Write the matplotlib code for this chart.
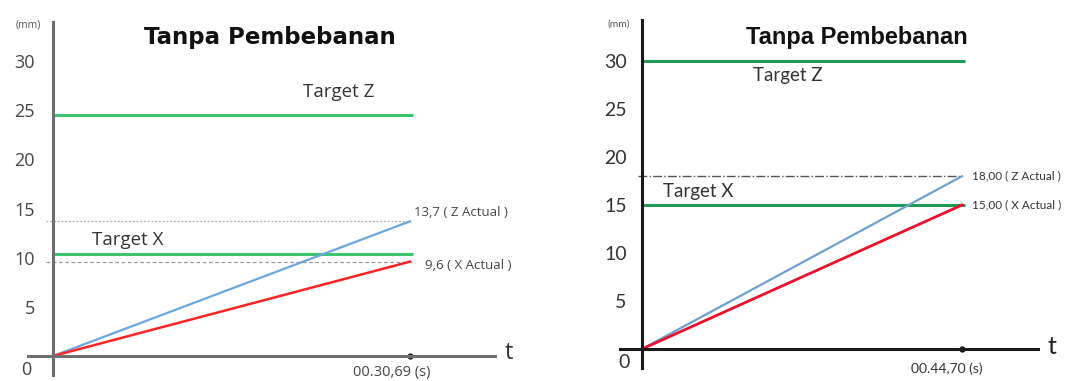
import matplotlib.pyplot as plt

# data (mm vs time in s)
t_end_left = 30.69
z_actual_left = 13.7
x_actual_left = 9.6
target_z_left = 24.5
target_x_left = 10.4

t_end_right = 44.70
z_actual_right = 18.0
x_actual_right = 15.0
target_z_right = 30.0
target_x_right = 15.0

yticks = [5, 10, 15, 20, 25, 30]

W, H = 1084, 381
fig = plt.figure(figsize=(W / 100, H / 100), dpi=100)


def make_axes(px_left, px_right, px_top, px_bottom):
    return fig.add_axes([px_left / W, (H - px_bottom) / H,
                         (px_right - px_left) / W, (px_bottom - px_top) / H])


# ---------------- left panel ----------------
sx, sy = 357 / t_end_left, 9.83  # px per unit
ax = make_axes(28, 495, 22, 375)
ax.set_xlim(-(53 - 28) / sx, (495 - 53) / sx)
ax.set_ylim(-(375 - 356) / sy, (356 - 22) / sy)
for s in ['top', 'right']:
    ax.spines[s].set_visible(False)
ax.spines['left'].set_position(('data', 0))
ax.spines['bottom'].set_position(('data', 0))
for s in ['left', 'bottom']:
    ax.spines[s].set_color('#6e6e6e')
    ax.spines[s].set_linewidth(2.2)
ax.set_yticks(yticks)
ax.set_yticklabels([str(v) for v in yticks], fontsize=13, color='#444444', family='Open Sans')
ax.tick_params(axis='y', length=0, pad=13)
ax.set_xticks([])

ax.hlines(target_z_left, 0, t_end_left + 0.3, color='#3ec46d', lw=2.2)
ax.hlines(target_x_left, 0, t_end_left + 0.3, color='#3ec46d', lw=2.2)
ax.hlines(z_actual_left, -0.6, t_end_left, color='#aaaaaa', lw=0.9, ls=(0, (1.5, 1.5)))
ax.hlines(x_actual_left, -0.6, t_end_left + 0.2, color='#999999', lw=0.9, ls=(0, (3, 2)))
ax.plot([0, t_end_left], [0, z_actual_left], color='#6aa6e0', lw=1.6)
ax.plot([0, t_end_left], [0, x_actual_left], color='#ff2424', lw=1.8)
ax.plot([t_end_left], [0], 'o', color='#222222', ms=3.5, clip_on=False)

ax.text(t_end_left * 0.80, target_z_left + 2.4, 'Target Z', fontsize=13.5,
        color='#333333', family='Open Sans', va='center', ha='center')
ax.text(t_end_left * 0.21, target_x_left + 1.4, 'Target X', fontsize=13.5,
        color='#333333', family='Open Sans', va='center', ha='center')
ax.annotate('13,7 ( Z Actual )', (t_end_left, z_actual_left), xytext=(3, 6),
            textcoords='offset points', fontsize=9.5, color='#444444', family='Open Sans', va='center')
ax.annotate('9,6 ( X Actual )', (t_end_left, x_actual_left), xytext=(11, -3),
            textcoords='offset points', fontsize=9.5, color='#444444', family='Open Sans', va='center')
ax.annotate('00.30,69 (s)', (t_end_left, 0), xytext=(-13, -12),
            textcoords='offset points', fontsize=10.5, color='#444444', family='Open Sans',
            ha='center', va='center')
ax.annotate('0', (0, 0), xytext=(-19, -10), textcoords='offset points', fontsize=13,
            color='#444444', family='Open Sans', ha='center', va='center')
ax.annotate('t', (ax.get_xlim()[1], 0), xytext=(10, 2), textcoords='offset points',
            fontsize=17, color='#333333', family='Open Sans', ha='center', va='center',
            annotation_clip=False)
ax.annotate('(mm)', (0, ax.get_ylim()[1]), xytext=(-18, -2), textcoords='offset points',
            fontsize=7.5, color='#555555', family='Open Sans', ha='center', va='center',
            annotation_clip=False)
ax.text(0.518, 0.955, 'Tanpa Pembebanan', transform=ax.transAxes, fontsize=16.5,
        fontweight='bold', family='DejaVu Sans', ha='center', va='center', color='#111111')

# ---------------- right panel ----------------
sx2, sy2 = 320 / t_end_right, 9.6
ax2 = make_axes(620, 1038, 20, 368)
ax2.set_xlim(-(642 - 620) / sx2, (1038 - 642) / sx2)
ax2.set_ylim(-(368 - 349) / sy2, (349 - 20) / sy2)
for s in ['top', 'right']:
    ax2.spines[s].set_visible(False)
ax2.spines['left'].set_position(('data', 0))
ax2.spines['bottom'].set_position(('data', 0))
for s in ['left', 'bottom']:
    ax2.spines[s].set_color('#1a1a1a')
    ax2.spines[s].set_linewidth(2.2)
narrow = 'Lato'
ax2.set_yticks(yticks)
ax2.set_yticklabels([str(v) for v in yticks], fontsize=14, color='#333333', family=narrow)
ax2.tick_params(axis='y', length=0, pad=11)
ax2.set_xticks([])

ax2.hlines(target_z_right, 0, t_end_right + 0.4, color='#1f9a52', lw=2.2)
ax2.hlines(target_x_right, 0, t_end_right + 0.4, color='#1f9a52', lw=2.2)
ax2.hlines(z_actual_right, -0.6, t_end_right, color='#555555', lw=1.0, ls='-.')
ax2.plot([0, t_end_right], [0, z_actual_right], color='#6f9fd0', lw=1.6)
ax2.plot([0, t_end_right], [0, x_actual_right], color='#e8102a', lw=2.0)
ax2.plot([t_end_right], [0], 'o', color='#111111', ms=3.5, clip_on=False)

ax2.text(t_end_right * 0.456, target_z_right - 1.5, 'Target Z', fontsize=13.5,
         color='#333333', family=narrow, va='center', ha='center')
ax2.text(t_end_right * 0.175, target_x_right + 1.4, 'Target X', fontsize=13.5,
         color='#333333', family=narrow, va='center', ha='center')
ax2.annotate('18,00 ( Z Actual )', (t_end_right, z_actual_right), xytext=(7, 0),
             textcoords='offset points', fontsize=8.5, color='#333333', family=narrow,
             va='center', annotation_clip=False)
ax2.annotate('15,00 ( X Actual )', (t_end_right, x_actual_right), xytext=(7, 0),
             textcoords='offset points', fontsize=8.5, color='#333333', family=narrow,
             va='center', annotation_clip=False)
ax2.annotate('00.44,70 (s)', (t_end_right, 0), xytext=(-11, -14),
             textcoords='offset points', fontsize=10, color='#333333', family=narrow,
             ha='center', va='center')
ax2.annotate('0', (0, 0), xytext=(-13, -10), textcoords='offset points', fontsize=14,
             color='#333333', family=narrow, ha='center', va='center')
ax2.annotate('t', (ax2.get_xlim()[1], 0), xytext=(10, 2), textcoords='offset points',
             fontsize=18, color='#222222', family=narrow, ha='center', va='center',
             annotation_clip=False)
ax2.annotate('(mm)', (0, ax2.get_ylim()[1]), xytext=(-17, -3), textcoords='offset points',
             fontsize=7.5, color='#555555', family=narrow, ha='center', va='center',
             annotation_clip=False)
ax2.text(t_end_right * 0.67, target_z_right + 2.4, 'Tanpa Pembebanan', fontsize=17,
         fontweight='bold', family='Liberation Sans', ha='center', va='center', color='#111111')

fig.savefig('out.png', dpi=100)
